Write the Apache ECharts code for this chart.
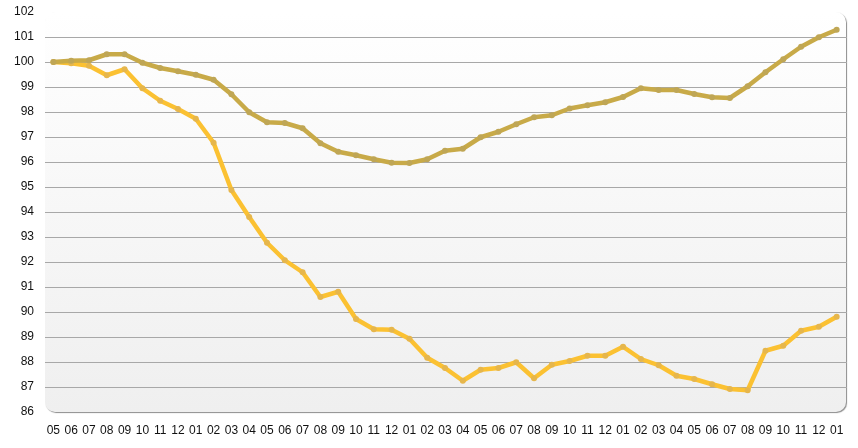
<!DOCTYPE html>
<html><head><meta charset="utf-8">
<script src="https://cdn.jsdelivr.net/npm/echarts@6/dist/echarts.min.js"></script>
<style>html,body{margin:0;padding:0;background:#fff}#c{width:858px;height:448px}</style>
</head><body><div id="c"></div>
<script>
var months = ['05','06','07','08','09','10','11','12','01','02','03','04','05','06','07','08','09','10','11','12','01','02','03','04','05','06','07','08','09','10','11','12','01','02','03','04','05','06','07','08','09','10','11','12','01'];
var olive = [100.0,100.05,100.07,100.31,100.31,99.97,99.76,99.63,99.49,99.29,98.71,97.99,97.59,97.56,97.35,96.75,96.41,96.27,96.11,95.97,95.96,96.11,96.45,96.53,96.99,97.21,97.51,97.79,97.87,98.14,98.27,98.39,98.6,98.95,98.88,98.88,98.72,98.59,98.56,99.03,99.59,100.11,100.61,100.99,101.29];
var yellow = [100.0,99.95,99.85,99.47,99.71,98.95,98.45,98.12,97.73,96.77,94.88,93.8,92.77,92.07,91.59,90.6,90.81,89.72,89.31,89.29,88.93,88.17,87.76,87.25,87.69,87.76,87.99,87.35,87.89,88.04,88.25,88.25,88.61,88.12,87.87,87.45,87.32,87.11,86.92,86.87,88.45,88.65,89.25,89.41,89.81];
var yTicks = [86,87,88,89,90,91,92,93,94,95,96,97,98,99,100,101,102];

var chart = echarts.init(document.getElementById('c'));
var gridCols = yTicks.map(function(v,i){ return (i===0 || i===yTicks.length-1) ? 'rgba(0,0,0,0)' : '#a8a8a8'; });
function pts(arr){ return arr.map(function(v,i){ return [i,v]; }); }
chart.setOption({
  animation:false,
  backgroundColor:'#ffffff',
  graphic:[{
    type:'rect', left:45, top:12, z:-10,
    shape:{width:801, height:400, r:10},
    style:{
      fill:new echarts.graphic.LinearGradient(0,0,0,1,[{offset:0,color:'#ffffff'},{offset:1,color:'#efefef'}]),
      shadowColor:'rgba(0,0,0,0.45)', shadowBlur:1, shadowOffsetX:1, shadowOffsetY:1
    }
  }],
  grid:{left:45, right:11, top:12, bottom:36, containLabel:false},
  xAxis:{
    type:'value', min:-0.47, max:44.58,
    axisLine:{show:false}, axisTick:{show:false}, splitLine:{show:false},
    axisLabel:{
      customValues: months.map(function(m,i){return i;}),
      formatter:function(v){ return months[Math.round(v)]; },
      color:'#111', fontFamily:'Liberation Sans, Arial, sans-serif', fontSize:12, margin:13
    }
  },
  yAxis:{
    type:'value', min:86, max:102, interval:1,
    axisLine:{show:false}, axisTick:{show:false},
    axisLabel:{color:'#111', fontFamily:'Liberation Sans, Arial, sans-serif', fontSize:12, margin:11},
    splitLine:{show:true, lineStyle:{color:gridCols, width:1}}
  },
  series:[
    {type:'line', data:pts(olive), symbol:'circle', symbolSize:6, z:3,
     lineStyle:{color:'#c8aa48', width:4.5},
     itemStyle:{color:'#bfa655'}},
    {type:'line', data:pts(yellow), symbol:'circle', symbolSize:6, z:2,
     lineStyle:{color:'#fbc132', width:4.5},
     itemStyle:{color:'#e6b64c'}}
  ]
});
</script></body></html>
